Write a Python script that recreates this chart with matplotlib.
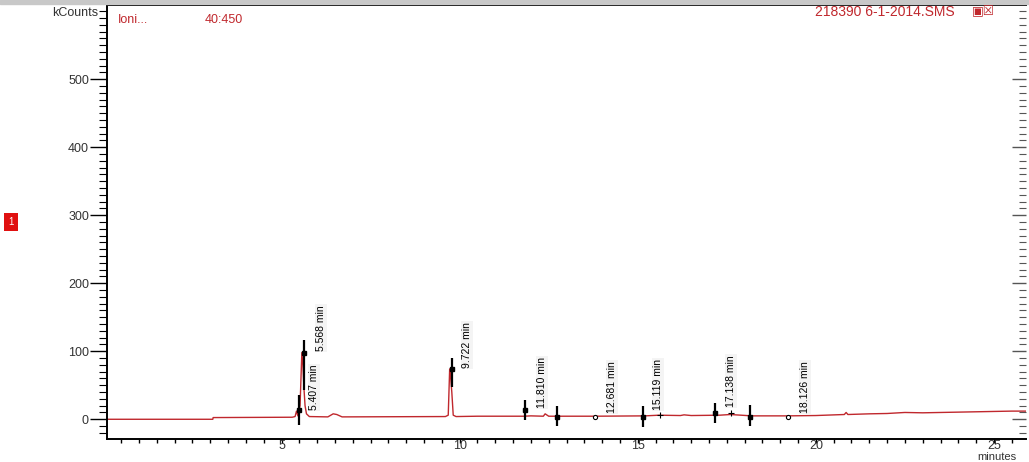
import matplotlib
matplotlib.use("Agg")
import matplotlib.pyplot as plt
from matplotlib.ticker import MultipleLocator

# chromatogram trace (time in min, intensity in kCounts)
rt = [0.1, 3.07, 3.08, 5.30, 5.38, 5.42, 5.46, 5.52, 5.57, 5.60, 5.63, 5.66, 5.70, 5.78,
      6.30, 6.45, 6.55, 6.70, 9.60, 9.68, 9.72, 9.75, 9.78, 9.82, 9.90, 10.5, 11.8, 12.0,
      12.35, 12.40, 12.50, 13.8, 15.2, 15.6, 16.2, 16.3, 16.5, 17.3, 17.6, 18.2, 19.2,
      20.0, 20.8, 20.85, 20.9, 21.5, 22.0, 22.5, 23.0, 24.0, 25.0, 25.5, 25.9]
kcounts = [0, 0, 2.5, 3, 4, 12, 5, 20, 98, 80, 45, 20, 8, 4,
           3.5, 8, 7, 3.5, 4, 6, 74, 60, 40, 6, 4, 4.5, 4.5, 5,
           4.5, 8, 4.5, 4.5, 5, 6, 5.5, 6.5, 5.5, 6, 7, 5, 5,
           5.5, 7, 10, 7, 8, 8.5, 10, 9.5, 10.5, 11.5, 12, 12]

# peak markers: position, dot height, bar low, bar high
mark_x = [5.48, 5.62, 9.78, 11.84, 12.72, 15.15, 17.17, 18.15]
mark_y = [13, 98, 74, 13, 4, 4, 9, 4]
mark_lo = [-9, 43, 47, -1, -10, -12, -6, -10]
mark_hi = [35, 116, 90, 29, 20, 19, 24, 21]
circle_x = [13.81, 19.21]
circle_y = [4, 4]
plus_x = [15.63, 17.62]
plus_y = [6, 9]

peak_labels = ["5.407 min", "5.568 min", "9.722 min", "11.810 min", "12.681 min",
               "15.119 min", "17.138 min", "18.126 min"]
label_x = [5.92, 6.12, 10.2, 12.31, 14.27, 15.56, 17.63, 19.7]
label_y = [13, 101, 75, 16, 9, 14, 18, 9]

xticks = [5, 10, 15, 20, 25]
yticks = [0, 100, 200, 300, 400, 500]

plt.rcParams['font.family'] = ['Liberation Sans', 'DejaVu Sans']
fig = plt.figure(figsize=(10.29, 4.62), dpi=100)
ax = fig.add_axes([107 / 1029, 23 / 462, 919 / 1029, 434 / 462])

ax.plot(rt, kcounts, color='#c0282d', lw=1.0)
ax.vlines(mark_x, mark_lo, mark_hi, color='black', lw=1.6)
ax.plot(mark_x, mark_y, 's', color='black', ms=3.5)
ax.plot(circle_x, circle_y, 'o', mfc='white', mec='black', ms=3, mew=0.8)
ax.plot(plus_x, plus_y, '+', color='black', ms=5, mew=0.8)

for t, x, y in zip(peak_labels, label_x, label_y):
    ax.text(x, y, t, rotation=90, ha='center', va='bottom', fontsize=7.5,
            bbox=dict(boxstyle='square,pad=0.1', fc='#f4f4f4', ec='none'))

ax.set_xlim(0.1, 25.9)
ax.set_ylim(-29, 609)
ax.set_xticks(xticks)
ax.set_yticks(yticks)
ax.xaxis.set_minor_locator(MultipleLocator(0.5))
ax.yaxis.set_minor_locator(MultipleLocator(10))
ax.tick_params(axis='y', which='major', length=12, width=1, labelsize=9, pad=1,
               direction='out')
ax.tick_params(axis='y', which='minor', length=6, width=0.8, direction='out')
ax.tick_params(axis='x', which='major', length=3, width=1, labelsize=9, pad=-2.5)
ax.tick_params(axis='x', which='minor', length=3, width=1)
for lab in ax.get_yticklabels() + ax.get_xticklabels():
    lab.set_color('#333333')
for s in ['left', 'bottom', 'top']:
    ax.spines[s].set_linewidth(1.4)
ax.spines['right'].set_visible(False)

# ticks on the right edge, pointing inward
rax = ax.twinx()
rax.set_ylim(ax.get_ylim())
rax.set_yticks(yticks)
rax.yaxis.set_minor_locator(MultipleLocator(10))
rax.tick_params(axis='y', which='major', length=10, width=1, direction='in',
                labelright=False, colors='#555555')
rax.tick_params(axis='y', which='minor', length=5, width=0.8, direction='in',
                colors='#555555')
for s in rax.spines.values():
    s.set_visible(False)

# header band and window texts
fig.patches.append(plt.Rectangle((0, 458 / 462), 1, 4 / 462, transform=fig.transFigure,
                                 color='#c8c8c8', zorder=0))
fig.text(75 / 1029, 1 - 13 / 462, 'kCounts', ha='center', va='center', fontsize=9,
         color='#333333')
fig.text(118 / 1029, 1 - 20 / 462, 'Ioni...', ha='left', va='center', fontsize=9,
         color='#c0282d')
fig.text(205 / 1029, 1 - 20 / 462, '40:450', ha='left', va='center', fontsize=9,
         color='#c0282d')
fig.text(955 / 1029, 1 - 12 / 462, '218390 6-1-2014.SMS', ha='right', va='center',
         fontsize=10, color='#c0282d')
fig.text(972 / 1029, 1 - 12 / 462, '\u25a3\u2612', ha='left', va='center', fontsize=9,
         color='#c0282d', family='DejaVu Sans')
fig.text(1016 / 1029, 0, 'minutes', ha='right', va='bottom', fontsize=8,
         color='#333333')
fig.text(11 / 1029, 1 - 222 / 462, '1', ha='center', va='center', fontsize=7,
         color='white', bbox=dict(boxstyle='square,pad=0.45', fc='#e01010', ec='none'))

fig.savefig('out.png', dpi=100)
